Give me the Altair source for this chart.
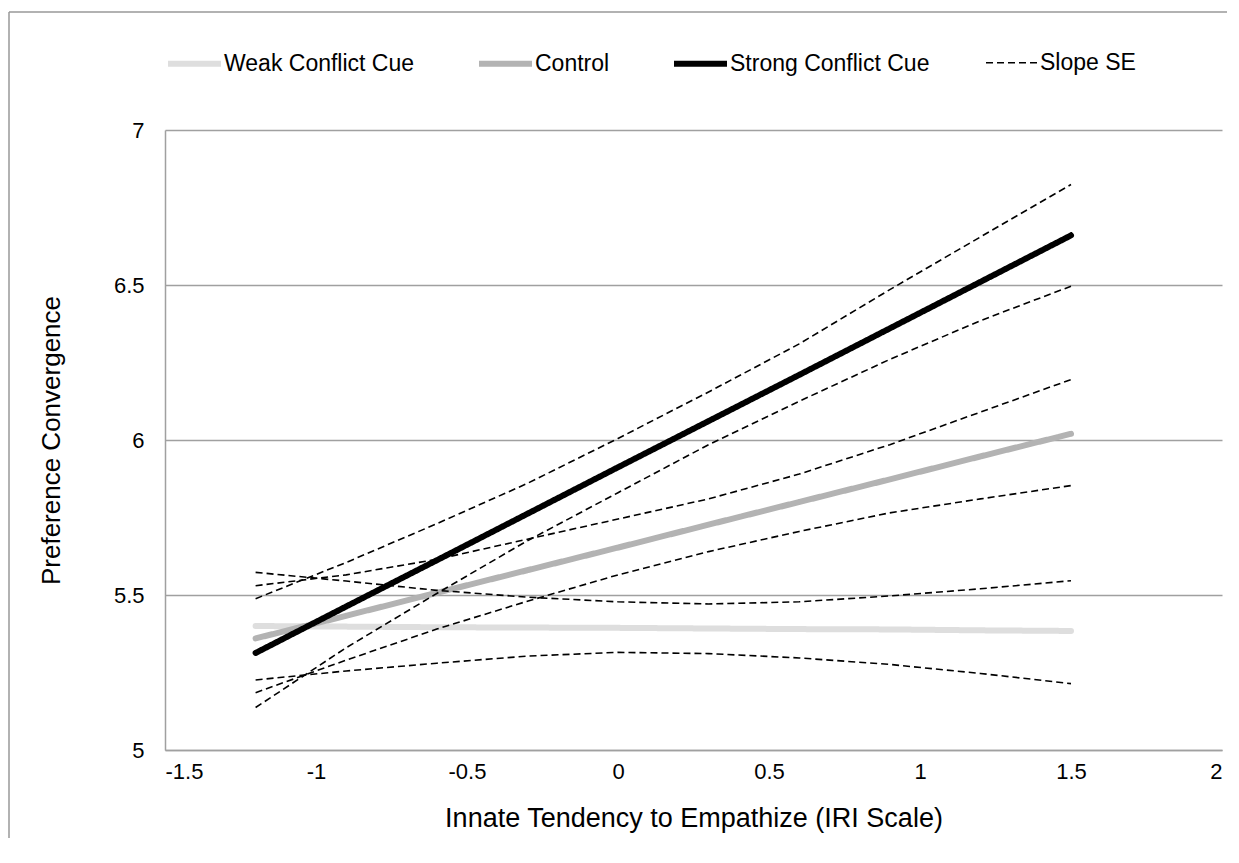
import altair as alt
import pandas as pd

# ---- data ----
x_points = [-1.2, -0.9, -0.6, -0.3, 0.0, 0.3, 0.6, 0.9, 1.2, 1.5]

weak = [5.400, 5.398, 5.396, 5.395, 5.394, 5.392, 5.390, 5.389, 5.386, 5.384]
control = [5.360, 5.433, 5.507, 5.580, 5.653, 5.727, 5.800, 5.873, 5.947, 6.020]
strong = [5.313, 5.463, 5.612, 5.762, 5.912, 6.061, 6.210, 6.360, 6.510, 6.660]

weak_hi = [5.573, 5.545, 5.515, 5.493, 5.478, 5.471, 5.478, 5.497, 5.520, 5.546]
weak_lo = [5.226, 5.255, 5.280, 5.303, 5.315, 5.311, 5.297, 5.276, 5.247, 5.214]
control_hi = [5.530, 5.565, 5.615, 5.680, 5.745, 5.810, 5.890, 5.985, 6.090, 6.195]
control_lo = [5.185, 5.290, 5.390, 5.480, 5.565, 5.640, 5.705, 5.765, 5.810, 5.853]
strong_hi = [5.488, 5.605, 5.730, 5.860, 6.005, 6.155, 6.310, 6.485, 6.655, 6.824]
strong_lo = [5.137, 5.330, 5.505, 5.675, 5.830, 5.985, 6.125, 6.260, 6.385, 6.496]

series_names = ["Weak Conflict Cue", "Control", "Strong Conflict Cue", "Slope SE"]
x_ticks = [-1.5, -1, -0.5, 0, 0.5, 1, 1.5, 2]
y_ticks = [5, 5.5, 6, 6.5, 7]

# ---- tables ----
main_rows = []
for name, vals in [("Weak Conflict Cue", weak), ("Control", control), ("Strong Conflict Cue", strong)]:
    for i, (xv, yv) in enumerate(zip(x_points, vals)):
        main_rows.append({"x": xv, "y": yv, "series": name, "line": name, "i": i})
main_df = pd.DataFrame(main_rows)

se_rows = []
for lid, vals in [("wh", weak_hi), ("wl", weak_lo), ("ch", control_hi),
                  ("cl", control_lo), ("sh", strong_hi), ("sl", strong_lo)]:
    for i, (xv, yv) in enumerate(zip(x_points, vals)):
        se_rows.append({"x": xv, "y": yv, "series": "Slope SE", "line": lid, "i": i})
se_df = pd.DataFrame(se_rows)

FONT = "Liberation Sans"
GRID = "#a0a0a0"

x_enc = alt.X("x:Q", scale=alt.Scale(domain=[-1.5, 2], nice=False, zero=False),
              axis=alt.Axis(values=x_ticks, grid=False, ticks=False,
                            labelExpr="(datum.value < 0 ? '-' : '') + format(abs(datum.value), '')",
                            domainColor=GRID, domainWidth=1.5,
                            labelFont=FONT, labelFontSize=22, labelColor="#000000",
                            labelPadding=11,
                            title="Innate Tendency to Empathize (IRI Scale)",
                            titleFont=FONT, titleFontSize=27, titleFontWeight="normal",
                            titleColor="#000000", titlePadding=23))
y_enc = alt.Y("y:Q", scale=alt.Scale(domain=[5, 7], nice=False, zero=False),
              axis=alt.Axis(values=y_ticks, grid=True, gridColor=GRID, gridWidth=1.5,
                            ticks=False, domainColor=GRID, domainWidth=1.5,
                            labelExpr="format(datum.value, '')",
                            labelFont=FONT, labelFontSize=22, labelColor="#000000",
                            labelPadding=21,
                            title="Preference Convergence",
                            titleFont=FONT, titleFontSize=26, titleFontWeight="normal",
                            titleColor="#000000", titlePadding=49))

legend = alt.Legend(title=None, orient="none", legendX=0, legendY=-96,
                    direction="horizontal", symbolType="stroke", symbolSize=2809,
                    labelFont=FONT, labelFontSize=23, labelColor="#000000",
                    labelOffset=0, columnPadding=52, labelLimit=600)

color_enc = alt.Color("series:N", scale=alt.Scale(domain=series_names,
                      range=["#dedede", "#b3b3b3", "#000000", "#000000"]), legend=legend)
width_enc = alt.StrokeWidth("series:N", scale=alt.Scale(type="ordinal", domain=series_names,
                            range=[6, 6, 6, 1.6]), legend=legend)
dash_enc = alt.StrokeDash("series:N", scale=alt.Scale(domain=series_names,
                          range=[[1, 0], [1, 0], [1, 0], [7, 4]]), legend=legend)

main_layer = alt.Chart(main_df).mark_line(strokeCap="round", strokeJoin="round").encode(
    x=x_enc, y=y_enc, color=color_enc, strokeWidth=width_enc, strokeDash=dash_enc,
    detail="line:N", order="i:Q")

se_layer = alt.Chart(se_df).mark_line().encode(
    x=x_enc, y=y_enc, color=color_enc, strokeWidth=width_enc, strokeDash=dash_enc,
    detail="line:N", order="i:Q")

frame_df = pd.DataFrame({"k": [0]})
frame_left = alt.Chart(frame_df).mark_rule(color="#999999", strokeWidth=1.5).encode(
    x=alt.value(-156), y=alt.value(-118), y2=alt.value(740))
frame_top = alt.Chart(frame_df).mark_rule(color="#999999", strokeWidth=1.5).encode(
    x=alt.value(-156), x2=alt.value(1080), y=alt.value(-118))

chart = alt.layer(frame_left, frame_top, main_layer, se_layer).properties(
    width=1057, height=620,
    padding={"left": 157, "top": 122, "right": 5, "bottom": 88},
    autosize=alt.AutoSizeParams(type="none"),
    background="#ffffff",
).configure_view(stroke=None)

chart.save("out.html", embed_options={"renderer": "svg", "actions": False})
